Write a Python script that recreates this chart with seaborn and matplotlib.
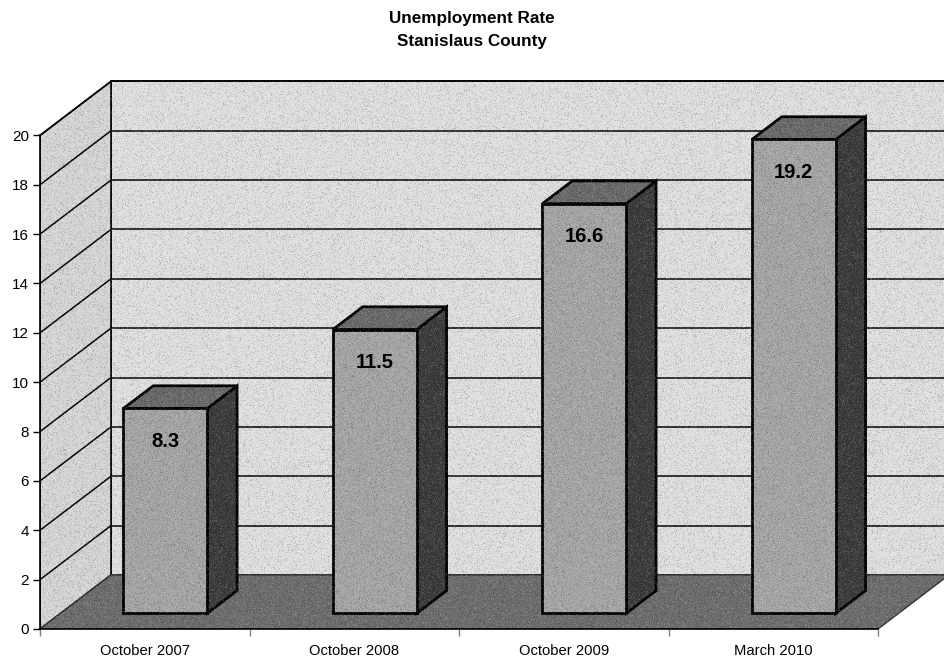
import numpy as np
import pandas as pd
import matplotlib
matplotlib.use("Agg")
import matplotlib.pyplot as plt
import seaborn as sns
from matplotlib.patches import Polygon

# Unemployment rate, Stanislaus County (percent)
categories = ["October 2007", "October 2008", "October 2009", "March 2010"]
rates = [8.3, 11.5, 16.6, 19.2]
y_ticks = [0, 2, 4, 6, 8, 10, 12, 14, 16, 18, 20]

# oblique depth vector (x in category units, y in percent units)
DX, DY = 0.339, 2.19
BAR_D0, BAR_D1 = 0.29, 0.71     # bar depth span inside the floor
BAR_W = 0.4

C_BACK = "#e0e0e0"
C_LEFT = "#d6d6d6"
C_FLOOR = "#6c6c6c"
C_FRONT = "#a5a5a5"
C_TOP = "#696969"
C_SIDE = "#3a3a3a"

sns.set_theme(style="white")
plt.rcParams["font.family"] = ["Liberation Sans", "DejaVu Sans"]
plt.rcParams["text.color"] = "black"
plt.rcParams["xtick.color"] = "black"
plt.rcParams["ytick.color"] = "black"

fig = plt.figure(figsize=(9.44, 6.57), dpi=100)
ax = fig.add_axes([40 / 944, 28 / 657, 904 / 944, 549 / 657])

df = pd.DataFrame({"period": categories, "rate": rates})
sns.barplot(data=df, x="period", y="rate", width=BAR_W, color=C_FRONT,
            saturation=1, edgecolor="black", linewidth=2, ax=ax, zorder=3)
bars = list(ax.patches)

x_lo, x_hi = -0.5, len(categories) - 0.5
top = y_ticks[-1]

# walls and floor
back = Polygon([(x_lo + DX, DY), (x_hi + DX, DY), (x_hi + DX, top + DY), (x_lo + DX, top + DY)],
               closed=True, facecolor=C_BACK, edgecolor="black", linewidth=1.2, zorder=0.5)
left = Polygon([(x_lo, 0), (x_lo, top), (x_lo + DX, top + DY), (x_lo + DX, DY)],
               closed=True, facecolor=C_LEFT, edgecolor="black", linewidth=1.2, zorder=0.6)
floor = Polygon([(x_lo, 0), (x_hi, 0), (x_hi + DX, DY), (x_lo + DX, DY)],
                closed=True, facecolor=C_FLOOR, edgecolor="#333333", linewidth=1.0, zorder=0.7)
for p in (back, left, floor):
    ax.add_patch(p)

for v in y_ticks[1:]:
    ax.plot([x_lo + DX, x_hi + DX], [v + DY, v + DY], color="black", lw=1.1, zorder=0.8)
    ax.plot([x_lo, x_lo + DX], [v, v + DY], color="black", lw=1.1, zorder=0.8)

# extrude each bar into a box
dd = BAR_D1 - BAR_D0
for p, v in zip(bars, rates):
    x0 = p.get_x() + BAR_D0 * DX
    y0 = BAR_D0 * DY
    w = p.get_width()
    p.set_x(x0)
    p.set_y(y0)
    p.set_height(v)
    p.set_zorder(3)
    side = Polygon([(x0 + w, y0), (x0 + w + dd * DX, y0 + dd * DY),
                    (x0 + w + dd * DX, y0 + v + dd * DY), (x0 + w, y0 + v)],
                   closed=True, facecolor=C_SIDE, edgecolor="black", linewidth=2, zorder=2.9)
    lid = Polygon([(x0, y0 + v), (x0 + w, y0 + v),
                   (x0 + w + dd * DX, y0 + v + dd * DY), (x0 + dd * DX, y0 + v + dd * DY)],
                  closed=True, facecolor=C_TOP, edgecolor="black", linewidth=2, zorder=2.9)
    ax.add_patch(side)
    ax.add_patch(lid)
    ax.annotate(f"{v}", xy=(x0 + w / 2, y0 + v), xytext=(0, -23.5),
                textcoords="offset points", ha="center", va="center",
                fontsize=14.5, fontweight="bold", color="black", zorder=6)

xlim = (x_lo, x_lo + 904 / 209.5)
ylim = (0, 549 / 24.68)

# fine grain over the filled chart body
h_px, w_px = 549, 904
rng = np.random.default_rng(7)
n = rng.normal(0, 1, (h_px, w_px))
grain = np.zeros((h_px, w_px, 4))
grain[..., :3] = (n > 0)[..., None].astype(float)
grain[..., 3] = np.clip(np.abs(n) * 0.08, 0, 0.22)
im = ax.imshow(grain, extent=(xlim[0], xlim[1], ylim[0], ylim[1]),
               aspect="auto", interpolation="nearest", zorder=4)
outline = Polygon([(x_lo, 0), (x_lo, top), (x_lo + DX, top + DY), (x_hi + DX, top + DY),
                   (x_hi + DX, DY), (x_hi, 0)], closed=True, transform=ax.transData,
                  facecolor="none", edgecolor="none")
im.set_clip_path(outline)
ax.set_xlim(*xlim)
ax.set_ylim(*ylim)

# axes: front edges only
for s in ("top", "right"):
    ax.spines[s].set_visible(False)
ax.spines["left"].set_bounds(0, top)
ax.spines["bottom"].set_bounds(x_lo, x_hi)
for s in ("left", "bottom"):
    ax.spines[s].set_color("black")
    ax.spines[s].set_linewidth(1.2)
    ax.spines[s].set_zorder(5)

ax.set_yticks(y_ticks)
ax.set_yticklabels([str(t) for t in y_ticks])
ax.set_xticks(np.arange(x_lo, x_hi + 0.01, 1.0))
ax.set_xticklabels([])
ax.set_xticks(range(len(categories)), minor=True)
ax.set_xticklabels(categories, minor=True)
ax.tick_params(axis="y", which="major", direction="out", length=5, width=1, color="black",
               left=True, pad=3, labelsize=11, labelcolor="black")
ax.tick_params(axis="x", which="major", direction="out", length=5, width=1, color="gray",
               bottom=True)
ax.tick_params(axis="x", which="minor", length=0, pad=11, labelsize=10.6, labelcolor="black")
ax.set_xlabel("")
ax.set_ylabel("")
ax.grid(False)
ax.set_facecolor("none")

fig.text(0.5, 1 - 18 / 657, "Unemployment Rate", ha="center", va="center",
         fontsize=12.3, fontweight="bold", color="black")
fig.text(0.5, 1 - 41.5 / 657, "Stanislaus County", ha="center", va="center",
         fontsize=12.3, fontweight="bold", color="black")

fig.savefig("out.png", dpi=100, facecolor="white")
